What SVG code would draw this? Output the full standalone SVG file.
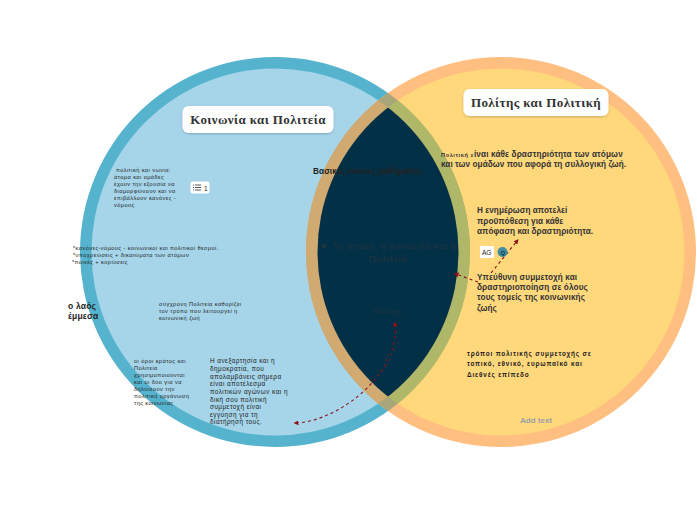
<svg xmlns="http://www.w3.org/2000/svg" width="697" height="520" viewBox="0 0 697 520">
<style>
text{font-family:"Liberation Sans",Arial,sans-serif;fill:#222}
.s{font-size:5.6px;letter-spacing:.44px}
.m{font-size:6.4px;letter-spacing:.45px}
.b{font-size:8.2px;font-weight:bold;fill:#333;letter-spacing:.13px}
.h{font-family:"Liberation Serif","DejaVu Serif",serif;font-weight:bold;font-size:13px;letter-spacing:.4px;fill:#333;text-anchor:middle}
.card{fill:#fff;filter:url(#sh)}
.dash{fill:none;stroke:#8f1018;stroke-width:1.1;stroke-dasharray:3 3}
.dim{fill:#24343f}
</style>
<defs>
<clipPath id="lo"><circle cx="275" cy="252" r="195"/></clipPath>
<clipPath id="li"><circle cx="275" cy="252" r="183.500"/></clipPath>
<clipPath id="ro"><circle cx="501" cy="252" r="195"/></clipPath>
<filter id="sh" x="-10%" y="-20%" width="120%" height="150%"><feDropShadow dx="0" dy="1" stdDeviation="1.2" flood-color="#000" flood-opacity=".22"/></filter>
<marker id="ah" viewBox="0 0 6 6" refX="3" refY="3" markerWidth="4.500" markerHeight="4.500" orient="auto-start-reverse"><path d="M0 0L6 3L0 6Z" fill="#8f1018"/></marker>
</defs>
<rect width="697" height="520" fill="#fff"/>
<g id="venn">
<circle id="left-ring" cx="275" cy="252" r="195" fill="#55b3cd"/>
<circle id="left-fill" cx="275" cy="252" r="183.500" fill="#a6d5ea"/>
<circle id="right-ring" cx="501" cy="252" r="195" fill="#ffbf80"/>
<circle id="right-fill" cx="501" cy="252" r="183.500" fill="#ffd87c"/>
<g clip-path="url(#lo)"><circle cx="501" cy="252" r="195" fill="#a9a67a"/><circle cx="501" cy="252" r="183.500" fill="#afb868"/></g>
<g clip-path="url(#ro)"><circle cx="275" cy="252" r="183.500" fill="#d0aa70"/></g>
<g clip-path="url(#li)"><circle cx="501" cy="252" r="183.500" fill="#023047"/></g>
</g>
<g id="connectors">
<path class="dash" d="M395 324C401 372 340 421 296 423" marker-start="url(#ah)" marker-end="url(#ah)"/>
<path class="dash" d="M478 282L456 274" marker-end="url(#ah)"/>
<path class="dash" d="M491 273L517 241" marker-end="url(#ah)"/>
</g>
<g id="node-koinonia"><rect class="card" x="182.500" y="106" width="151" height="27" rx="6"/><text class="h" x="258" y="124">Κοινωνία και Πολιτεία</text></g>
<g id="node-polites"><rect class="card" x="463.500" y="89" width="145" height="27" rx="6"/><text class="h" x="536" y="107">Πολίτης και Πολιτική</text></g>
<g id="node-politiki-koinonia"><text class="s"><tspan x="116" y="172"> πολιτική και νωνία:</tspan><tspan x="114" y="179">άτομα και ομάδες</tspan><tspan x="114" y="186">έχουν την εξουσία να</tspan><tspan x="114" y="193">διαμορφώνουν και να</tspan><tspan x="114" y="200">επιβάλλουν κανόνες -</tspan><tspan x="114" y="207">νόμους</tspan></text>
<rect x="190.500" y="181.500" width="19" height="12" rx="2" fill="#fff"/><path d="M193 185h1M193 187.500h1M193 190h1M195 185h6M195 187.500h6M195 190h6" stroke="#444" stroke-width=".9" fill="none"/><text x="204" y="191" font-size="6.500">1</text></g>
<g id="node-kanones"><text class="s"><tspan x="73" y="250">*κανόνες-νόμους - κοινωνικοί και πολιτικοί θεσμοί.</tspan><tspan x="73" y="257">*υποχρεώσεις + δικαιώματα των ατόμων</tspan><tspan x="72" y="264">*ποινές + κυρώσεις</tspan></text></g>
<g id="node-laos"><text font-size="8.500" font-weight="bold" letter-spacing=".2"><tspan x="68" y="309">ο λαός</tspan><tspan x="68" y="319">έμμεσα</tspan></text></g>
<g id="node-sygchroni"><text class="s"><tspan x="159" y="306">σύγχρονη Πολιτεία καθορίζει</tspan><tspan x="159" y="313">τον τρόπο που λειτουργεί η</tspan><tspan x="159" y="320">κοινωνική ζωή</tspan></text></g>
<g id="node-oroi"><text class="s"><tspan x="134" y="363">οι όροι κράτος και</tspan><tspan x="134" y="370">Πολιτεία</tspan><tspan x="134" y="377">χρησιμοποιούνται</tspan><tspan x="134" y="384">και οι δύο για να</tspan><tspan x="134" y="391">δηλώσουν την</tspan><tspan x="134" y="398">πολιτική οργάνωση</tspan><tspan x="134" y="405">της κοινωνίας</tspan></text></g>
<g id="node-anexartisia"><text class="m"><tspan x="210" y="363">Η ανεξαρτησία και η</tspan><tspan x="210" y="371">δημοκρατία, που</tspan><tspan x="210" y="378.500">απολαμβάνεις σήμερα</tspan><tspan x="210" y="386">είναι αποτέλεσμα</tspan><tspan x="210" y="394">πολιτικών αγώνων και η</tspan><tspan x="210" y="401.500">δική σου πολιτική</tspan><tspan x="210" y="409">συμμετοχή είναι</tspan><tspan x="210" y="417">εγγύηση για τη</tspan><tspan x="210" y="424">διατήρησή τους.</tspan></text></g>
<g id="node-vasikes"><text x="313" y="174" font-size="8.200" font-weight="bold" letter-spacing=".1">Βασικές έννοιες μαθήματος</text></g>
<g id="node-atomo"><text font-size="9.500" letter-spacing=".5" class="dim" text-anchor="middle"><tspan x="388" y="249">► Το άτομο, η κοινωνία και η</tspan><tspan x="388" y="262">Πολιτεία</tspan></text></g>
<g id="node-polites-label"><text x="388" y="314" font-size="8" letter-spacing=".2" text-anchor="middle" class="dim">Πολίτης</text></g>
<g id="node-politiki-def"><text class="b"><tspan x="441" y="157"><tspan font-size="5.600" letter-spacing=".6">Πολιτική ε</tspan>ίναι κάθε δραστηριότητα των ατόμων</tspan><tspan x="441" y="167" letter-spacing=".06">και των ομάδων που αφορά τη συλλογική ζωή.</tspan></text></g>
<g id="node-enimerosi"><text class="b" style="letter-spacing:.05px"><tspan x="477" y="213">Η ενημέρωση αποτελεί</tspan><tspan x="477" y="224">προϋπόθεση για κάθε</tspan><tspan x="477" y="234">απόφαση και δραστηριότητα.</tspan></text></g>
<g id="node-ypefthyni"><rect x="480" y="246" width="14" height="12" fill="#fff"/><text x="482" y="254.500" font-size="6.500" fill="#444">AG</text><circle cx="502.500" cy="252" r="5" fill="#3f8fa0"/><text x="500.500" y="254.500" font-size="6" font-weight="bold" style="fill:#173d4a">Q</text>
<text class="b"><tspan x="477" y="280">Υπεύθυνη συμμετοχή και</tspan><tspan x="477" y="290">δραστηριοποίηση σε όλους</tspan><tspan x="477" y="300">τους τομείς της κοινωνικής</tspan><tspan x="477" y="311">ζωής</tspan></text></g>
<g id="node-tropoi"><text class="m" font-weight="bold" style="letter-spacing:.85px"><tspan x="467" y="356">τρόποι πολιτικής συμμετοχής σε</tspan><tspan x="467" y="366">τοπικό, εθνικό, ευρωπαϊκό και</tspan><tspan x="467" y="377">Διεθνές επίπεδο</tspan></text></g>
<g id="node-add"><text x="520" y="423" font-size="8" font-weight="bold" style="fill:#9a9fa8">Add text</text></g>
</svg>
